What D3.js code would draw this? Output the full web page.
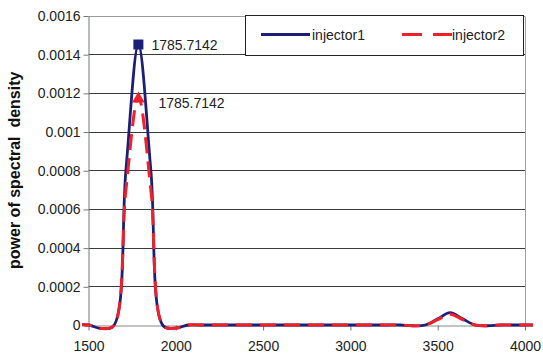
<!DOCTYPE html>
<html><head><meta charset="utf-8">
<script src="https://cdn.jsdelivr.net/npm/d3@7"></script>
<style>body{margin:0;background:#fff;}svg{display:block;font-family:Arial,"Liberation Sans",sans-serif;}</style>
</head><body><svg id="c" width="543" height="360"></svg>
<script>
// frequency bins (Hz), spacing 1785.7142/25
const freqs = [1428.57,1500,1571.43,1642.86,1714.29,1785.71,1857.14,1928.57,2000,2071.43,2142.86,2214.29,2285.71,2357.14,2428.57,2500,2571.43,2642.86,2714.29,2785.71,2857.14,2928.57,3000,3071.43,3142.86,3214.29,3285.71,3357.14,3428.57,3500,3571.43,3642.86,3714.29,3785.71,3857.14,3928.57,4000,4071.43];
const injector1 = [0,0,-0.000018,-0.000005,0.00080,0.00145,0.00080,-0.000005,-0.000016,0,0,0,0,0,0,0,0,0,0,0,0,0,0,0,0,0,0,-0.000004,0,0.000032,0.0000636,0.000032,0,-0.000004,0,0,0,0];
const injector2 = [0,0,-0.000018,-0.000005,0.00070,0.00118,0.00070,-0.000005,-0.000016,0,0,0,0,0,0,0,0,0,0,0,0,0,0,0,0,0,0,-0.000004,0,0.000028,0.000056,0.000028,0,-0.000004,0,0,0,0];
const seriesNames = ["injector1","injector2"];
const peakFreq = 1785.7142;
const peakLabels = ["1785.7142","1785.7142"];
const yTicks = [0,0.0002,0.0004,0.0006,0.0008,0.001,0.0012,0.0014,0.0016];
const yTickLabels = ["0","0.0002","0.0004","0.0006","0.0008","0.001","0.0012","0.0014","0.0016"];
const xTicks = [1500,2000,2500,3000,3500,4000];
const yTitle = "power of spectral  density";

const svg = d3.select("#c");
const L=88.5, R=525, T=15.5, B=325;
const x = d3.scaleLinear().domain([1500,4000]).range([L,R]);
const y = d3.scaleLinear().domain([0,0.0016]).range([B,T]);
const colors = ["#1c1f78","#f0202a"];

// gridlines
svg.append("g").selectAll("line").data(yTicks.filter(d=>d>0)).join("line")
  .attr("x1",L).attr("x2",R).attr("y1",d=>Math.round(y(d))+0.5).attr("y2",d=>Math.round(y(d))+0.5)
  .attr("stroke",d=>d===0.0016?"#999":"#3a3a3a").attr("stroke-width",1);
// right border
svg.append("line").attr("x1",R+0.5).attr("x2",R+0.5).attr("y1",Math.round(T)+0.5).attr("y2",B+0.5).attr("stroke","#a0a0a0");

// y axis
const yAxis = d3.axisLeft(y).tickValues(yTicks).tickFormat((d,i)=>yTickLabels[i]).tickSize(5).tickSizeOuter(0);
const gy = svg.append("g").attr("transform",`translate(${L},0.5)`).call(yAxis);
gy.select(".domain").attr("stroke","#777");
gy.selectAll(".tick line").attr("stroke","#777");
gy.selectAll("text").attr("font-size",14).attr("fill","#222").attr("x",-8).attr("font-family","Arial,'Liberation Sans',sans-serif");

// x axis
const xAxis = d3.axisBottom(x).tickValues(xTicks).tickFormat(d3.format("d")).tickSize(5).tickSizeOuter(0);
const gx = svg.append("g").attr("transform",`translate(0,${B+0.5})`).call(xAxis);
gx.select(".domain").attr("stroke","#888");
gx.selectAll(".tick line").attr("stroke","#777");
gx.selectAll("text").attr("font-size",14).attr("fill","#222").attr("y",16).attr("font-family","Arial,'Liberation Sans',sans-serif");

// y title
svg.append("text").attr("transform",`translate(20,${(T+B)/2}) rotate(-90)`).attr("text-anchor","middle")
  .attr("font-size",16).attr("font-weight","bold").attr("fill","#111").attr("xml:space","preserve").style("white-space","pre").text(yTitle);

// clip
svg.append("clipPath").attr("id","cp").append("rect").attr("x",82).attr("y",0).attr("width",533-82).attr("height",360);

const line = d3.line().x(d=>x(d[0])).y(d=>y(d[1])).curve(d3.curveCatmullRom.alpha(0.5));
const data = [injector1, injector2].map(s=>freqs.map((f,i)=>[f,s[i]]));
const lg = svg.append("g").attr("clip-path","url(#cp)");
lg.append("path").datum(data[0]).attr("d",line).attr("fill","none").attr("stroke",colors[0]).attr("stroke-width",2.8);
lg.append("path").datum(data[1]).attr("d",line).attr("fill","none").attr("stroke",colors[1]).attr("stroke-width",3).attr("stroke-dasharray","16,8");

// peak markers
const pi = freqs.findIndex(f=>Math.abs(f-peakFreq)<0.1);
svg.append("rect").attr("x",x(peakFreq)-5).attr("y",y(injector1[pi])-5).attr("width",10).attr("height",10).attr("fill",colors[0]);
svg.append("path").attr("d",d3.symbol(d3.symbolTriangle,70)()).attr("transform",`translate(${x(peakFreq)},${y(injector2[pi])+2})`).attr("fill",colors[1]);
svg.append("text").attr("x",x(peakFreq)+13).attr("y",y(injector1[pi])+5).attr("font-size",14).attr("fill","#222").text(peakLabels[0]);
svg.append("text").attr("x",x(peakFreq)+20).attr("y",y(injector2[pi])+11).attr("font-size",14).attr("fill","#222").text(peakLabels[1]);

// legend
svg.append("rect").attr("x",245.5).attr("y",15.5).attr("width",278).attr("height",40).attr("fill","#fff").attr("stroke","#222").attr("stroke-width",1);
svg.append("line").attr("x1",261).attr("x2",310).attr("y1",34.5).attr("y2",34.5).attr("stroke",colors[0]).attr("stroke-width",2.8);
svg.append("text").attr("x",312).attr("y",39.5).attr("font-size",14).attr("fill","#222").text(seriesNames[0]);
svg.append("line").attr("x1",402).attr("x2",452).attr("y1",34.5).attr("y2",34.5).attr("stroke",colors[1]).attr("stroke-width",3).attr("stroke-dasharray","20,11");
svg.append("text").attr("x",452).attr("y",39.5).attr("font-size",14).attr("fill","#222").text(seriesNames[1]);
</script></body></html>
